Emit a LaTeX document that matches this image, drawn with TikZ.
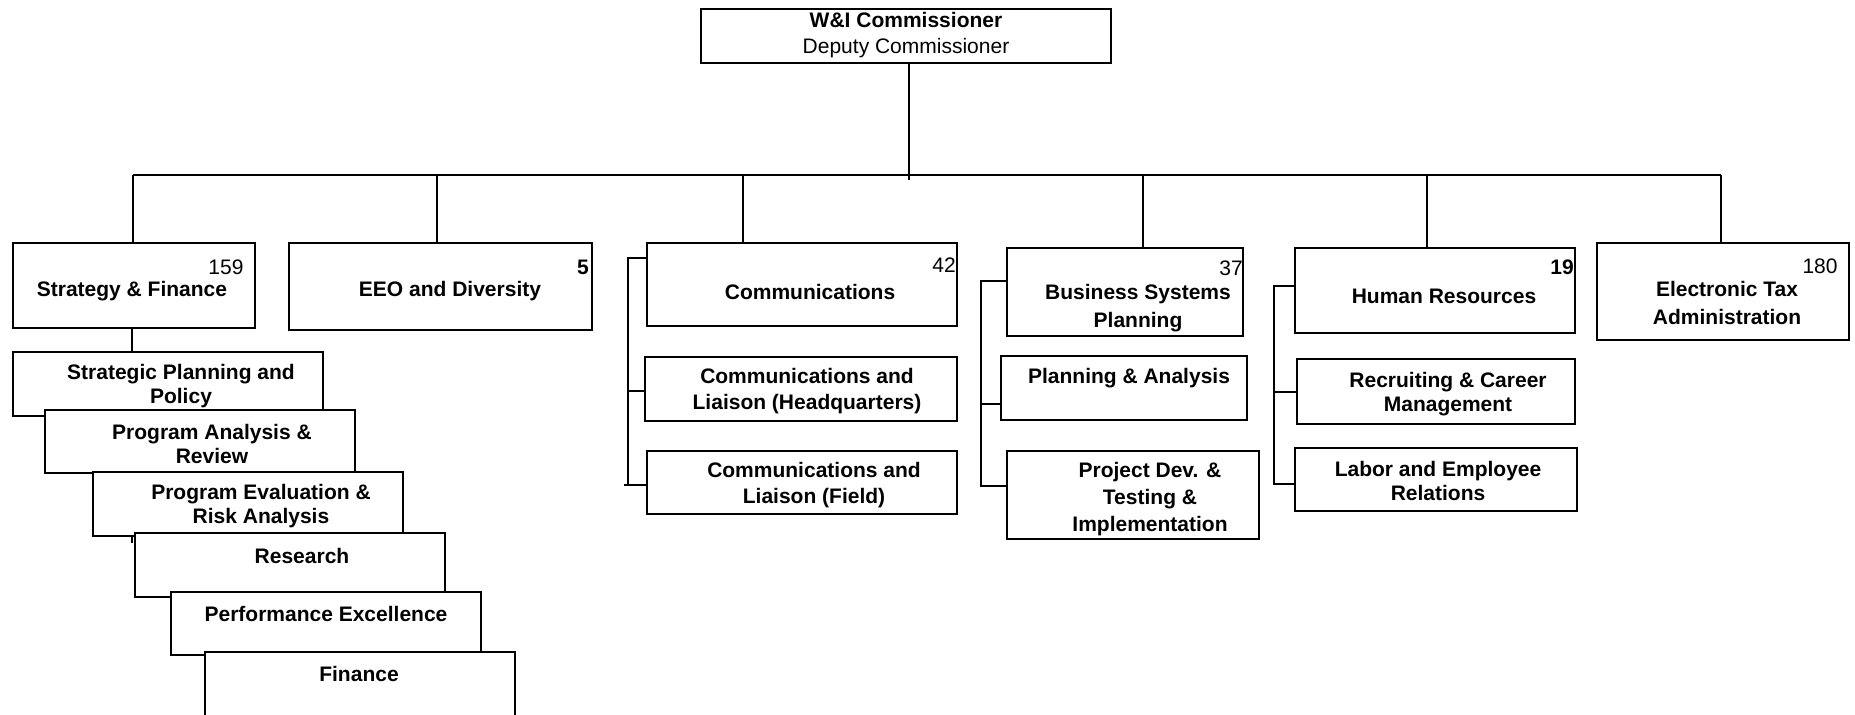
\documentclass[tikz,border=0pt]{standalone}
\usepackage{fontspec}
\setmainfont{Liberation Sans}
\usetikzlibrary{fit,calc}
\begin{document}
\begin{tikzpicture}[x=0.5pt,y=-0.5pt,line width=1pt,
  box/.style={draw,fill=white,inner sep=0pt,line width=1pt},
  lbl/.style={font=\fontsize{10.5pt}{12pt}\selectfont\bfseries,align=center,inner sep=0pt},
  num/.style={font=\fontsize{10.5pt}{12pt}\selectfont,inner sep=0pt},
  bnum/.style={font=\fontsize{10.5pt}{12pt}\selectfont\bfseries,inner sep=0pt}]
\useasboundingbox (0,0) rectangle (1855,714);
\clip (0,0) rectangle (1855,714);
% top
\node[box,fit={(701,9)(1111,63)}] (top) {};
\node[lbl] (toptxt) at (906,35) {W\&I Commissioner\\[1pt]{\mdseries Deputy Commissioner}};
% first level boxes
\node[box,fit={(13,243)(255,328)}] (strat) {};
\node[box,fit={(289,243)(592,330)}] (eeo) {};
\node[box,fit={(647,243)(957,326)}] (comm) {};
\node[box,fit={(1007,248)(1243,336)}] (bsp) {};
\node[box,fit={(1295,248)(1575,333)}] (hr) {};
\node[box,fit={(1597,243)(1849,340)}] (eta) {};
% bus
\coordinate (busL) at (133,175);
\coordinate (busR) at (1721,175);
\coordinate (topdrop) at (909,180);
\coordinate (b2) at (437,175);
\coordinate (b3) at (743,175);
\coordinate (b4) at (1143,175);
\coordinate (b5) at (1427,175);
\coordinate (sdrop) at (132,543);
\draw (topdrop |- top.south) -- (topdrop);
\draw (busL) -- (busR);
\draw (busL) -- (busL |- strat.north);
\draw (b2) -- (b2 |- eeo.north);
\draw (b3) -- (b3 |- comm.north);
\draw (b4) -- (b4 |- bsp.north);
\draw (b5) -- (b5 |- hr.north);
\draw (busR) -- (busR |- eta.north);
% strategy sub-units (stacked)
\draw (sdrop |- strat.south) -- (sdrop);
\node[box,fit={(13,352)(323,416)}] (sp) {};
\node[box,fit={(45,410)(355,473)}] (par) {};
\node[box,fit={(93,472)(403,536)}] (pe) {};
\node[box,fit={(135,533)(445,597)}] (res) {};
\node[box,fit={(171,592)(481,655)}] (perf) {};
\node[box,fit={(205,652)(515,730)}] (fin) {};
% communications sub-units
\node[box,fit={(645,357)(957,421)}] (hq) {};
\node[box,fit={(647,451)(957,514)}] (field) {};
\draw ($(comm.north west)+(0,16)$) -- ++(-18,0) |- ($(field.north west)+(0,35)$);
\draw ($(field.north west)+(-22,35)$) -- ($(field.north west)+(0,35)$);
\draw ($(hq.north west)+(0,35)$) -- ++(-16,0);
% business systems sub-units
\node[box,fit={(1001,356)(1247,420)}] (pa) {};
\node[box,fit={(1007,451)(1259,539)}] (pd) {};
\draw ($(bsp.north west)+(0,34)$) -- ++(-25,0) |- ($(pd.north west)+(0,36)$);
\draw ($(pa.north west)+(0,49)$) -- ++(-19,0);
% human resources sub-units
\node[box,fit={(1297,359)(1575,424)}] (rec) {};
\node[box,fit={(1295,448)(1577,511)}] (lab) {};
\draw ($(hr.north west)+(0,39)$) -- ++(-20,0) |- ($(lab.north west)+(0,37)$);
\draw ($(rec.north west)+(0,34)$) -- ++(-22,0);
% texts
\node[lbl] (strattxt) at (132,291) {Strategy \& Finance};
\node[num] (stratnum) at (226,267) {159};
\node[lbl] (eeotxt) at (450,291) {EEO and Diversity};
\node[bnum] (eeonum) at (583,267) {5};
\node[lbl] (commtxt) at (810,292) {Communications};
\node[num] (commnum) at (944,265) {42};
\node[lbl] (bsptxt) at (1138,308) {Business Systems\\[2pt]Planning};
\node[num] (bspnum) at (1231,268) {37};
\node[lbl] (hrtxt) at (1444,296) {Human Resources};
\node[bnum] (hrnum) at (1562,267) {19};
\node[lbl] (etatxt) at (1727,303) {Electronic Tax\\[2pt]Administration};
\node[num] (etanum) at (1820,266) {180};
\node[lbl] (sptxt) at (181,386) {Strategic Planning and\\Policy};
\node[lbl] (partxt) at (212,444) {Program Analysis \&\\Review};
\node[lbl] (petxt) at (261,506) {Program Evaluation \&\\Risk Analysis};
\node[lbl] (restxt) at (302,556) {Research};
\node[lbl] (perftxt) at (326,614) {Performance Excellence};
\node[lbl] (fintxt) at (359,674) {Finance};
\node[lbl] (hqtxt) at (807,391) {Communications and\\[1pt]Liaison (Headquarters)};
\node[lbl] (fieldtxt) at (814,485) {Communications and\\[1pt]Liaison (Field)};
\node[lbl] (patxt) at (1129,378) {Planning \& Analysis};
\node[lbl] (pdtxt) at (1150,499) {Project Dev. \&\\[1.3pt]Testing \&\\[1.3pt]Implementation};
\node[lbl] (rectxt) at (1448,394) {Recruiting \& Career\\Management};
\node[lbl] (labtxt) at (1438,481) {Labor and Employee\\Relations};
\end{tikzpicture}
\end{document}
